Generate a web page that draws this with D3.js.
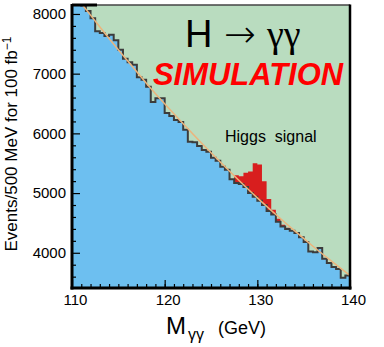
<!DOCTYPE html>
<html><head><meta charset="utf-8">
<script src="https://cdn.jsdelivr.net/npm/d3@7"></script>
<style>body{margin:0;background:#fff}svg{display:block}</style>
</head><body>
<script>
// ---- data ----
const binStart = 110, binWidth = 0.5;
const background = [
  8330,8240,8140,8050,7930,7710,7680,7630,7650,7560,7400,7250,7190,7150,6940,6900,6780,6525,6590,6590,
  6340,6290,6225,6190,6060,5860,5850,5790,5720,5690,5590,5540,5440,5390,5230,5170,5150,5100,5000,4940,
  4870,4800,4700,4640,4520,4440,4400,4370,4330,4260,4180,4020,4010,4080,3900,3830,3760,3730,3580,3620];
const signalBins = [127.5,128,128.5,129,129.5,130,130.5,131,131.5,132,132.5,133];
const signalValues = [130,130,240,360,560,610,400,200,80,50,30,20];
const fitMass = [110,112,114,116,118,120,122,124,126,128,130,132,134,136,138,140];
const fitValues = [8370,7980,7590,7215,6845,6495,6160,5835,5520,5215,4920,4640,4370,4110,3860,3620];
const xTicks = [110,120,130,140];
const yTicks = [4000,5000,6000,7000,8000];

const W = 384, H = 347;
const L = 72, R = 350, T = 5, B = 288;
const x = d3.scaleLinear().domain([110,140]).range([L,R]);
const y = d3.scaleLinear().domain([3410,8150]).range([B,T]);

const svg = d3.select("body").append("svg").attr("width",W).attr("height",H);
svg.append("defs").append("clipPath").attr("id","clip")
  .append("rect").attr("x",L).attr("y",T).attr("width",R-L).attr("height",B-T);

svg.append("rect").attr("x",L).attr("y",T).attr("width",R-L).attr("height",B-T).attr("fill","#b9dcbf");

const bins = background.map((v,i)=>({m:binStart+i*binWidth, v}));
bins.push({m:binStart+background.length*binWidth, v:background[background.length-1]});

const g = svg.append("g").attr("clip-path","url(#clip)");

g.append("path").datum(bins)
  .attr("d", d3.area().x(d=>x(d.m)).y0(B).y1(d=>y(d.v)).curve(d3.curveStepAfter))
  .attr("fill","#6dbff0");

const sig = signalBins.map((m,i)=>{
  const idx = Math.round((m-binStart)/binWidth);
  return {m, b:background[idx], t:background[idx]+signalValues[i]};
});
const lastS = sig[sig.length-1];
sig.push({m:lastS.m+binWidth, b:lastS.b, t:lastS.t});
g.append("path").datum(sig)
  .attr("d", d3.area().x(d=>x(d.m)).y0(d=>y(d.b)).y1(d=>y(d.t)).curve(d3.curveStepAfter))
  .attr("fill","#d81e1e");

g.append("path").datum(bins)
  .attr("d", d3.line().x(d=>x(d.m)).y(d=>y(d.v)).curve(d3.curveStepAfter))
  .attr("fill","none").attr("stroke","#3c3c3c").attr("stroke-width",2);

g.append("path").datum(fitMass.map((m,i)=>({m, v:fitValues[i]})))
  .attr("d", d3.line().x(d=>x(d.m)).y(d=>y(d.v)).curve(d3.curveMonotoneX))
  .attr("fill","none").attr("stroke","#ecb47c").attr("stroke-width",1.5);

// axes (inward ticks)
const font = "'Liberation Sans', Arial, Helvetica, sans-serif";
function styleAxis(sel){
  sel.select(".domain").remove();
  sel.selectAll("line").attr("stroke","#000").attr("stroke-width",1.2);
  sel.selectAll("text").attr("font-family",font).attr("font-size",15).attr("fill","#000");
}
svg.append("g").attr("transform",`translate(0,${B})`)
  .call(d3.axisBottom(x).tickValues(d3.range(111,140,1)).tickSize(-4).tickFormat(""))
  .call(styleAxis);
svg.append("g").attr("transform",`translate(0,${B})`)
  .call(d3.axisBottom(x).tickValues(xTicks).tickSize(-8).tickPadding(6).tickFormat(d3.format("d")))
  .call(styleAxis)
  .selectAll("text").attr("dx",3);
svg.append("g").attr("transform",`translate(${L},0)`)
  .call(d3.axisLeft(y).tickValues(d3.range(3600,8150,200).filter(v=>v%1000)).tickSize(-4).tickFormat(""))
  .call(styleAxis);
svg.append("g").attr("transform",`translate(${L},0)`)
  .call(d3.axisLeft(y).tickValues(yTicks).tickSize(-8).tickPadding(6).tickFormat(d3.format("d")))
  .call(styleAxis);

// frame
svg.append("line").attr("x1",L).attr("x2",R).attr("y1",T).attr("y2",T).attr("stroke","#444").attr("stroke-width",1.5);
svg.append("line").attr("x1",L).attr("x2",97).attr("y1",T).attr("y2",T).attr("stroke","#000").attr("stroke-width",3);
svg.append("line").attr("x1",L).attr("x2",L).attr("y1",T-1).attr("y2",B+1.5).attr("stroke","#000").attr("stroke-width",3);
svg.append("line").attr("x1",L-1.5).attr("x2",R+1.5).attr("y1",B).attr("y2",B).attr("stroke","#000").attr("stroke-width",3);
svg.append("line").attr("x1",R).attr("x2",R).attr("y1",T-0.5).attr("y2",B+1.5).attr("stroke","#000").attr("stroke-width",2.5);

// annotations
svg.append("text").attr("x",185).attr("y",47).attr("font-family",font).attr("font-size",38).text("H");
svg.append("text").attr("x",224).attr("y",47).attr("font-family","'DejaVu Sans', sans-serif").attr("font-size",38).attr("font-weight",200).text("→");
svg.append("text").attr("x",267).attr("y",47).attr("font-family","'Liberation Serif', 'Times New Roman', serif").attr("font-size",38).text("γγ");
svg.append("text").attr("x",153).attr("y",85).attr("font-family",font).attr("font-size",31)
  .attr("font-weight","bold").attr("font-style","italic").attr("fill","#ff0000")
  .attr("textLength",190).attr("lengthAdjust","spacingAndGlyphs").text("SIMULATION");
svg.append("text").attr("x",225).attr("y",142).attr("font-family",font).attr("font-size",16)
  .style("white-space","pre").text("Higgs  signal");

// axis titles
const yt = svg.append("text").attr("transform","translate(17,144) rotate(-90)")
  .attr("text-anchor","middle").attr("font-family",font).attr("font-size",17);
yt.append("tspan").text("Events/500 MeV for 100 fb");
yt.append("tspan").attr("dy",-6).attr("font-size",12).text("−1");

svg.append("text").attr("x",166).attr("y",334).attr("font-family",font).attr("font-size",24).text("M");
svg.append("text").attr("x",188).attr("y",340).attr("font-family",font).attr("font-size",16).text("γγ");
svg.append("text").attr("x",218).attr("y",334).attr("font-family",font).attr("font-size",18).text("(GeV)");
</script>
</body></html>
